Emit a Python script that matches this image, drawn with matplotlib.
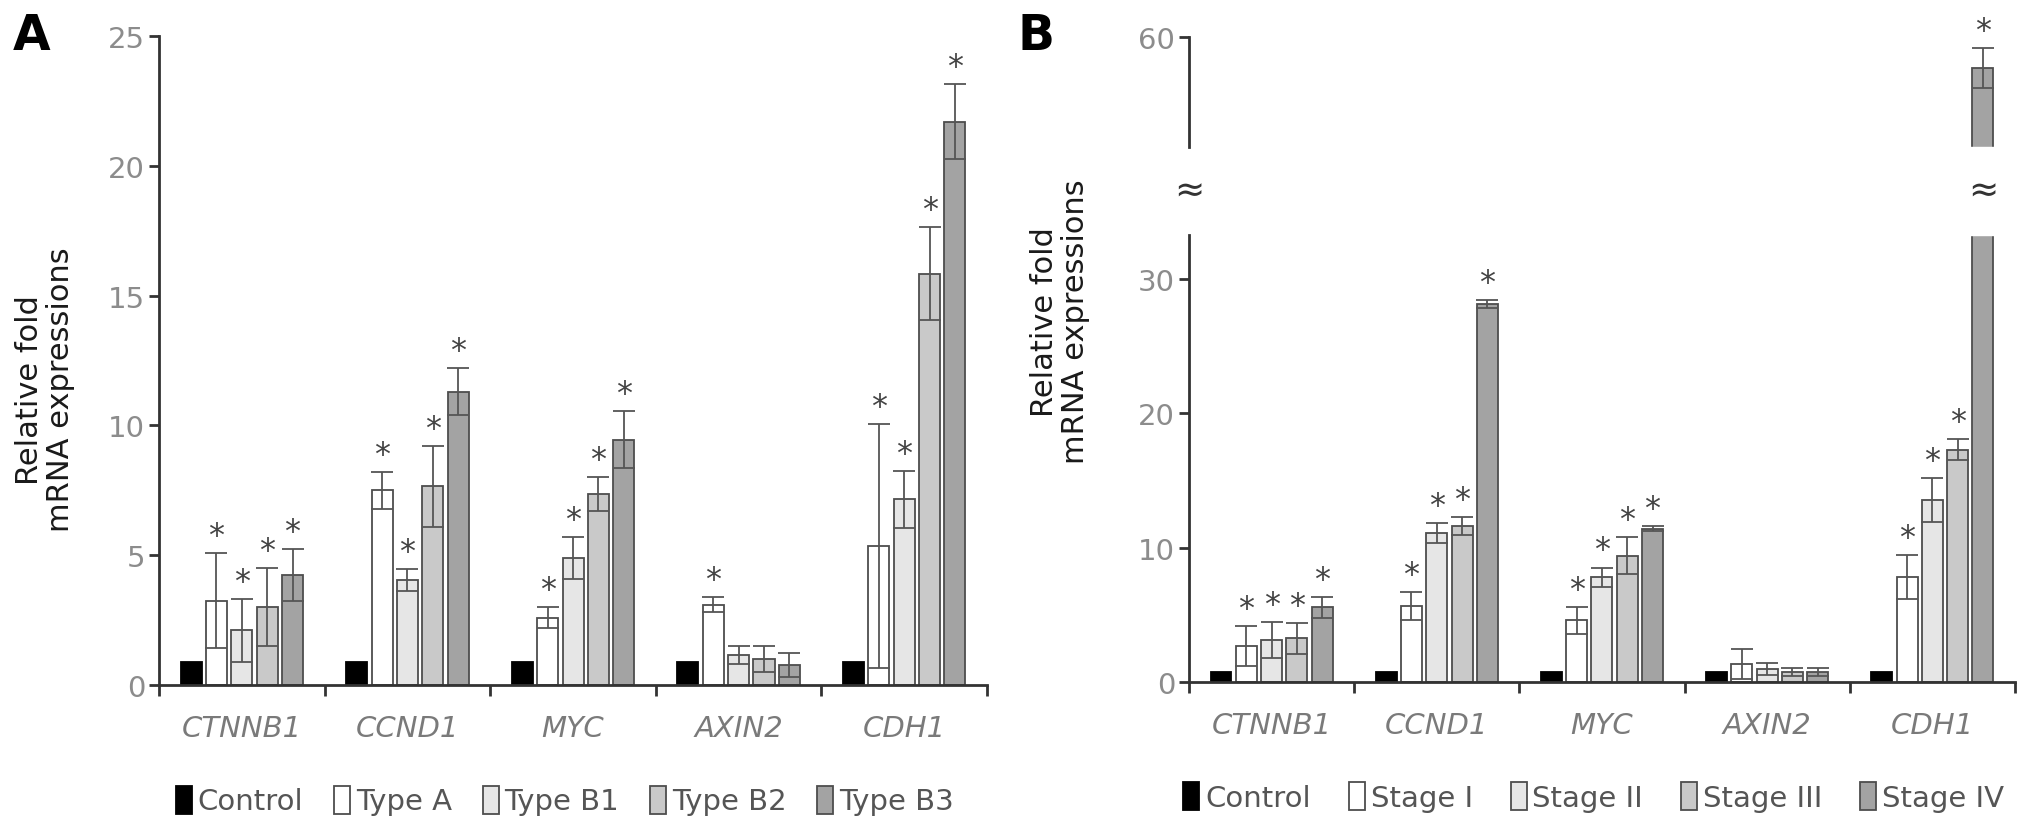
import numpy as np
import matplotlib
matplotlib.use("Agg")
from matplotlib import pyplot as plt

plt.rcParams["font.family"] = ["DejaVu Sans"]

# ---- data ----
genes = ["CTNNB1", "CCND1", "MYC", "AXIN2", "CDH1"]

labels_a = ["Control", "Type A", "Type B1", "Type B2", "Type B3"]
ctrl_a = [0.9, 0.9, 0.9, 0.9, 0.9]
type_a = [3.25, 7.5, 2.6, 3.1, 5.35]
type_b1 = [2.1, 4.05, 4.9, 1.15, 7.15]
type_b2 = [3.0, 7.65, 7.35, 1.0, 15.85]
type_b3 = [4.25, 11.3, 9.45, 0.77, 21.7]
type_a_err = [1.83, 0.72, 0.4, 0.3, 4.7]
type_b1_err = [1.2, 0.43, 0.8, 0.35, 1.1]
type_b2_err = [1.5, 1.55, 0.65, 0.5, 1.8]
type_b3_err = [1.0, 0.9, 1.1, 0.46, 1.45]
sig_a = [[False] * 5,
         [True, True, True, True, True],
         [True, True, True, False, True],
         [True, True, True, False, True],
         [True, True, True, False, True]]

labels_b = ["Control", "Stage I", "Stage II", "Stage III", "Stage IV"]
ctrl_b = [0.75, 0.75, 0.75, 0.75, 0.75]
stage1 = [2.67, 5.65, 4.6, 1.33, 7.8]
stage2 = [3.1, 11.1, 7.8, 0.95, 13.55]
stage3 = [3.26, 11.6, 9.4, 0.75, 17.3]
stage4 = [5.55, 28.1, 11.4, 0.75, 57.7]
stage1_err = [1.47, 1.05, 1.0, 1.1, 1.65]
stage2_err = [1.35, 0.75, 0.72, 0.45, 1.65]
stage3_err = [1.15, 0.65, 1.4, 0.3, 0.8]
stage4_err = [0.8, 0.3, 0.2, 0.3, 1.5]
sig_b = [[False] * 5,
         [True, True, True, False, True],
         [True, True, True, False, True],
         [True, True, True, False, True],
         [True, True, True, False, True]]

colors = ["#000000", "#ffffff", "#e6e6e6", "#c9c9c9", "#a3a3a3"]
edges = ["#000000", "#4d4d4d", "#4d4d4d", "#4d4d4d", "#4d4d4d"]

# broken axis for panel B
lo_top, hi_bot, gap = 33.3, 51.85, 6.55


def fwd(y):
    y = np.asarray(y, dtype=float)
    return np.where(y <= lo_top, y,
                    np.where(y >= hi_bot, y - hi_bot + lo_top + gap,
                             lo_top + (y - lo_top) * gap / (hi_bot - lo_top)))


def inv(y):
    y = np.asarray(y, dtype=float)
    return np.where(y <= lo_top, y,
                    np.where(y >= lo_top + gap, y - lo_top - gap + hi_bot,
                             lo_top + (y - lo_top) * (hi_bot - lo_top) / gap))


pitch = 0.153
width = 0.127
axis_col = "#333333"


def draw_panel(ax, series, errs, sig, labels, colspace):
    x = np.arange(len(genes))
    handles = []
    for i, vals in enumerate(series):
        xi = x + (i - 2) * pitch
        b = ax.bar(xi, vals, width, color=colors[i], edgecolor=edges[i],
                   linewidth=1.3, zorder=2, label=labels[i])
        handles.append(b)
        if errs[i] is not None:
            ax.errorbar(xi, vals, yerr=errs[i], fmt="none", ecolor="#555555",
                        elinewidth=1.3, capsize=8, capthick=1.3, zorder=4)
            for xx, v, e, s in zip(xi, vals, errs[i], sig[i]):
                if s:
                    ax.annotate("*", (xx, v + e), xytext=(0, 1.5),
                                textcoords="offset points", ha="center",
                                va="bottom", fontsize=23, color="#444444",
                                zorder=5)
    ax.set_xlim(-0.5, len(genes) - 0.5)
    ax.spines["top"].set_visible(False)
    ax.spines["right"].set_visible(False)
    for s in ["left", "bottom"]:
        ax.spines[s].set_linewidth(2)
        ax.spines[s].set_color(axis_col)
    ax.set_xticks(np.arange(len(genes) + 1) - 0.5)
    ax.set_xticklabels([])
    ax.tick_params(axis="x", which="major", length=8, width=2, color=axis_col)
    ax.set_xticks(x, minor=True)
    ax.set_xticklabels(genes, minor=True, fontsize=21, style="italic",
                       color="#7a7a7a")
    ax.tick_params(axis="x", which="minor", length=0, pad=21)
    ax.tick_params(axis="y", length=7, width=2, color=axis_col, labelsize=21,
                   labelcolor="#8c8c8c", pad=3)
    leg = ax.legend(handles=handles, loc="center", bbox_to_anchor=(0.49, -0.178),
                    ncol=5, frameon=False, fontsize=21, handlelength=0.55,
                    handleheight=1.1, handletextpad=0.2, columnspacing=colspace,
                    labelcolor="#555555")
    return leg


fig = plt.figure(figsize=(20.31, 8.37), dpi=100)
ax1 = fig.add_axes([0.0783, 0.1804, 0.4077, 0.7754])
ax2 = fig.add_axes([0.5854, 0.1840, 0.4067, 0.7706])

draw_panel(ax1, [ctrl_a, type_a, type_b1, type_b2, type_b3],
           [None, type_a_err, type_b1_err, type_b2_err, type_b3_err],
           sig_a, labels_a, 1.05)
ax1.set_ylim(0, 25)
ax1.set_yticks([0, 5, 10, 15, 20, 25])

ax2.set_yscale("function", functions=(fwd, inv))
draw_panel(ax2, [ctrl_b, stage1, stage2, stage3, stage4],
           [None, stage1_err, stage2_err, stage3_err, stage4_err],
           sig_b, labels_b, 1.3)
ax2.set_ylim(0, 60)
ax2.set_yticks([0, 10, 20, 30, 60])
ax2.set_yticks([], minor=True)

# broken left spine with gap
ax2.spines["left"].set_visible(False)
ytr = ax2.get_yaxis_transform()
ax2.plot([0, 0], [0, lo_top], transform=ytr, color=axis_col, lw=2,
         clip_on=False, zorder=6)
ax2.plot([0, 0], [hi_bot, 60], transform=ytr, color=axis_col, lw=2,
         clip_on=False, zorder=6)
ax2.axhspan(lo_top, hi_bot, color="white", zorder=3)
y_mid = (lo_top + hi_bot) / 2
ax2.text(0, y_mid, "\u2248", transform=ytr, ha="center", va="center",
         fontsize=26, color="#333333", zorder=7)
x_last = len(genes) - 1 + 2 * pitch
ax2.text(x_last, y_mid, "\u2248", ha="center", va="center", fontsize=26,
         color="#333333", zorder=7)

# y labels and panel letters
fig.text(45 / 2031, 1 - 390 / 837, "Relative fold\nmRNA expressions",
         rotation=90, ha="center", va="center", fontsize=22, color="#1a1a1a",
         linespacing=1.05)
fig.text(1060 / 2031, 1 - 322 / 837, "Relative fold\nmRNA expressions",
         rotation=90, ha="center", va="center", fontsize=22, color="#1a1a1a",
         linespacing=1.05)
fig.text(13 / 2031, 1 - 36 / 837, "A", fontsize=35, fontweight="bold",
         ha="left", va="center")
fig.text(1018 / 2031, 1 - 36 / 837, "B", fontsize=35, fontweight="bold",
         ha="left", va="center")

fig.savefig("out.png", dpi=100)
